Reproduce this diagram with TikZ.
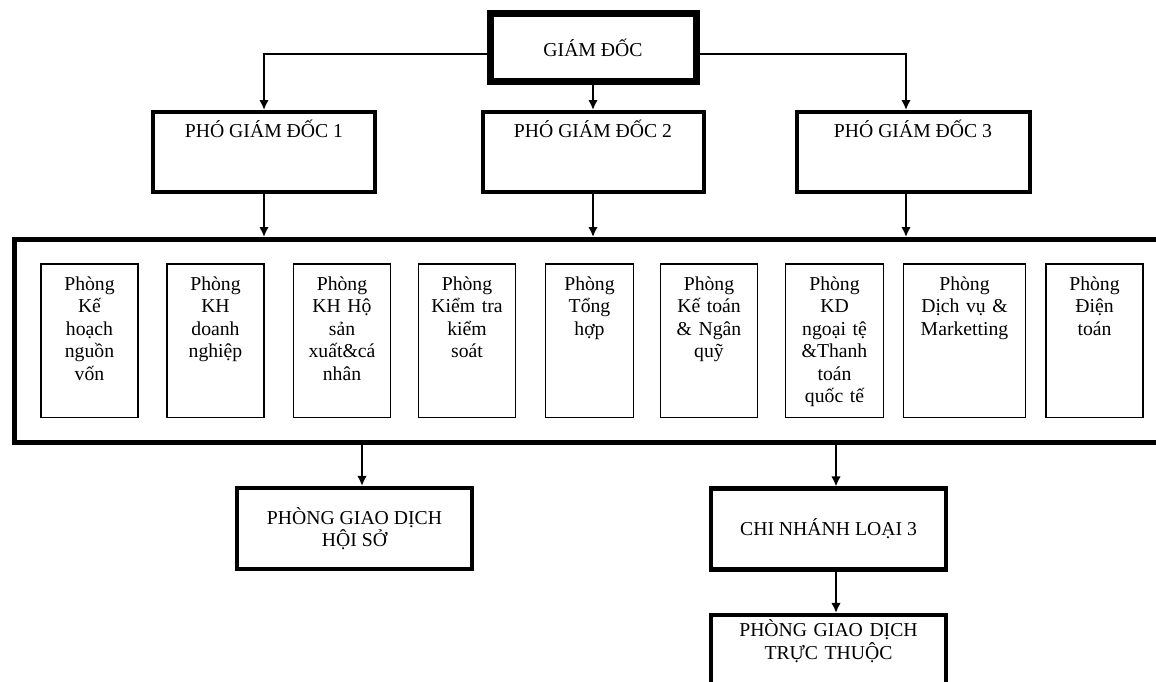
\documentclass[tikz,border=0pt]{standalone}
\usepackage{fontspec}
\setmainfont{Liberation Serif}
\usepackage{tikz}
\usetikzlibrary{arrows.meta,positioning}
\newcommand\orgfont{\fontsize{9.85}{11.25}\selectfont}
\tikzset{
  gdbox/.style={rectangle, draw, line width=3.5pt, minimum width=103pt,
              minimum height=34pt, align=center, font=\orgfont},
  pgdbox/.style={rectangle, draw, line width=2pt, minimum width=111pt,
              minimum height=40pt},
  deptbox/.style={rectangle, draw, line width=2.5pt, minimum width=573.75pt,
              minimum height=101.5pt},
  unitbox/.style={rectangle, draw, line width=0.75pt, minimum width=48.5pt,
              minimum height=76.75pt},
  subbox/.style={rectangle, draw, line width=2.25pt, minimum width=117.3pt,
              minimum height=40.3pt, align=center, font=\orgfont},
  toptxt/.style={anchor=base, yshift=-13.75pt, align=center, font=\orgfont, inner sep=0pt},
  unittxt/.style={anchor=base, yshift=-13.5pt, text width=62pt, align=center,
              font=\orgfont, inner sep=0pt},
  arr/.style={-{Latex[length=5pt, width=4.8pt]}, line width=1.35pt}
}
\begin{document}
\begin{tikzpicture}[x=0.5pt, y=-0.5pt]
  \useasboundingbox (0,0) rectangle (1156,681);
  % board
  \node[gdbox] (gd) at (593,47.5) {GIÁM ĐỐC};
  \node[pgdbox, label={[toptxt]north:PHÓ GIÁM ĐỐC 1}] (pgd1) at (264,152) {};
  \node[pgdbox, minimum width=110.5pt, label={[toptxt]north:PHÓ GIÁM ĐỐC 2}] (pgd2) at (593,152) {};
  \node[pgdbox, minimum width=116.5pt, label={[toptxt]north:PHÓ GIÁM ĐỐC 3}] (pgd3) at (913,152) {};
  % departments
  \node[deptbox] (dept) at (588.25,341) {};
  \node[unitbox, label={[unittxt]north:Phòng\\Kế\\hoạch\\nguồn\\vốn}] (u1) at (89.5,340.5) {};
  \node[unitbox, label={[unittxt]north:Phòng\\KH\\doanh\\nghiệp}] (u2) at (215.5,340.5) {};
  \node[unitbox, label={[unittxt]north:Phòng\\KH Hộ\\sản\\xuất\&cá\\nhân}] (u3) at (342,340.5) {};
  \node[unitbox, label={[unittxt]north:Phòng\\Kiểm tra\\kiểm\\soát}] (u4) at (467,340.5) {};
  \node[unitbox, minimum width=44pt, label={[unittxt]north:Phòng\\Tổng\\hợp}] (u5) at (589.5,340.5) {};
  \node[unitbox, label={[unittxt]north:Phòng\\Kế toán\\\& Ngân\\quỹ}] (u6) at (709,340.5) {};
  \node[unitbox, minimum width=49pt, label={[unittxt]north:Phòng\\KD\\ngoại tệ\\\&Thanh\\toán\\quốc tế}] (u7) at (834.5,340.5) {};
  \node[unitbox, minimum width=61pt, label={[unittxt]north:Phòng\\Dịch vụ \&\\Marketting}] (u8) at (964.5,340.5) {};
  \node[unitbox, label={[unittxt]north:Phòng\\Điện\\toán}] (u9) at (1094.5,340.5) {};
  % branches
  \node[subbox] (hs) at (354.5,528.5) {PHÒNG GIAO DỊCH\\HỘI SỞ};
  \node[subbox] (cn) at (828.5,529) {CHI NHÁNH LOẠI 3};
  \node[subbox, label={[unittxt, text width=112pt, yshift=1.5pt]north:PHÒNG GIAO DỊCH\\TRỰC THUỘC}] (tt) at (828.5,655.5) {};
  % connectors
  \draw[arr] ([yshift=-3.25pt]gd.west) -| (pgd1.north);
  \draw[arr] (gd.south) -- (pgd2.north);
  \draw[arr] ([yshift=-3.25pt]gd.east) -| ([xshift=-3.5pt]pgd3.north);
  \draw[arr] (pgd1.south) -- (pgd1.south |- dept.north);
  \draw[arr] (pgd2.south) -- (pgd2.south |- dept.north);
  \draw[arr] ([xshift=-3.5pt]pgd3.south) -- ([xshift=-3.5pt]pgd3.south |- dept.north);
  \draw[arr] ([xshift=3.75pt]hs.north |- dept.south) -- ([xshift=3.75pt]hs.north);
  \draw[arr] ([xshift=3.75pt]cn.north |- dept.south) -- ([xshift=3.75pt]cn.north);
  \draw[arr] ([xshift=3.75pt]cn.south) -- ([xshift=3.75pt]tt.north);
\end{tikzpicture}
\end{document}
